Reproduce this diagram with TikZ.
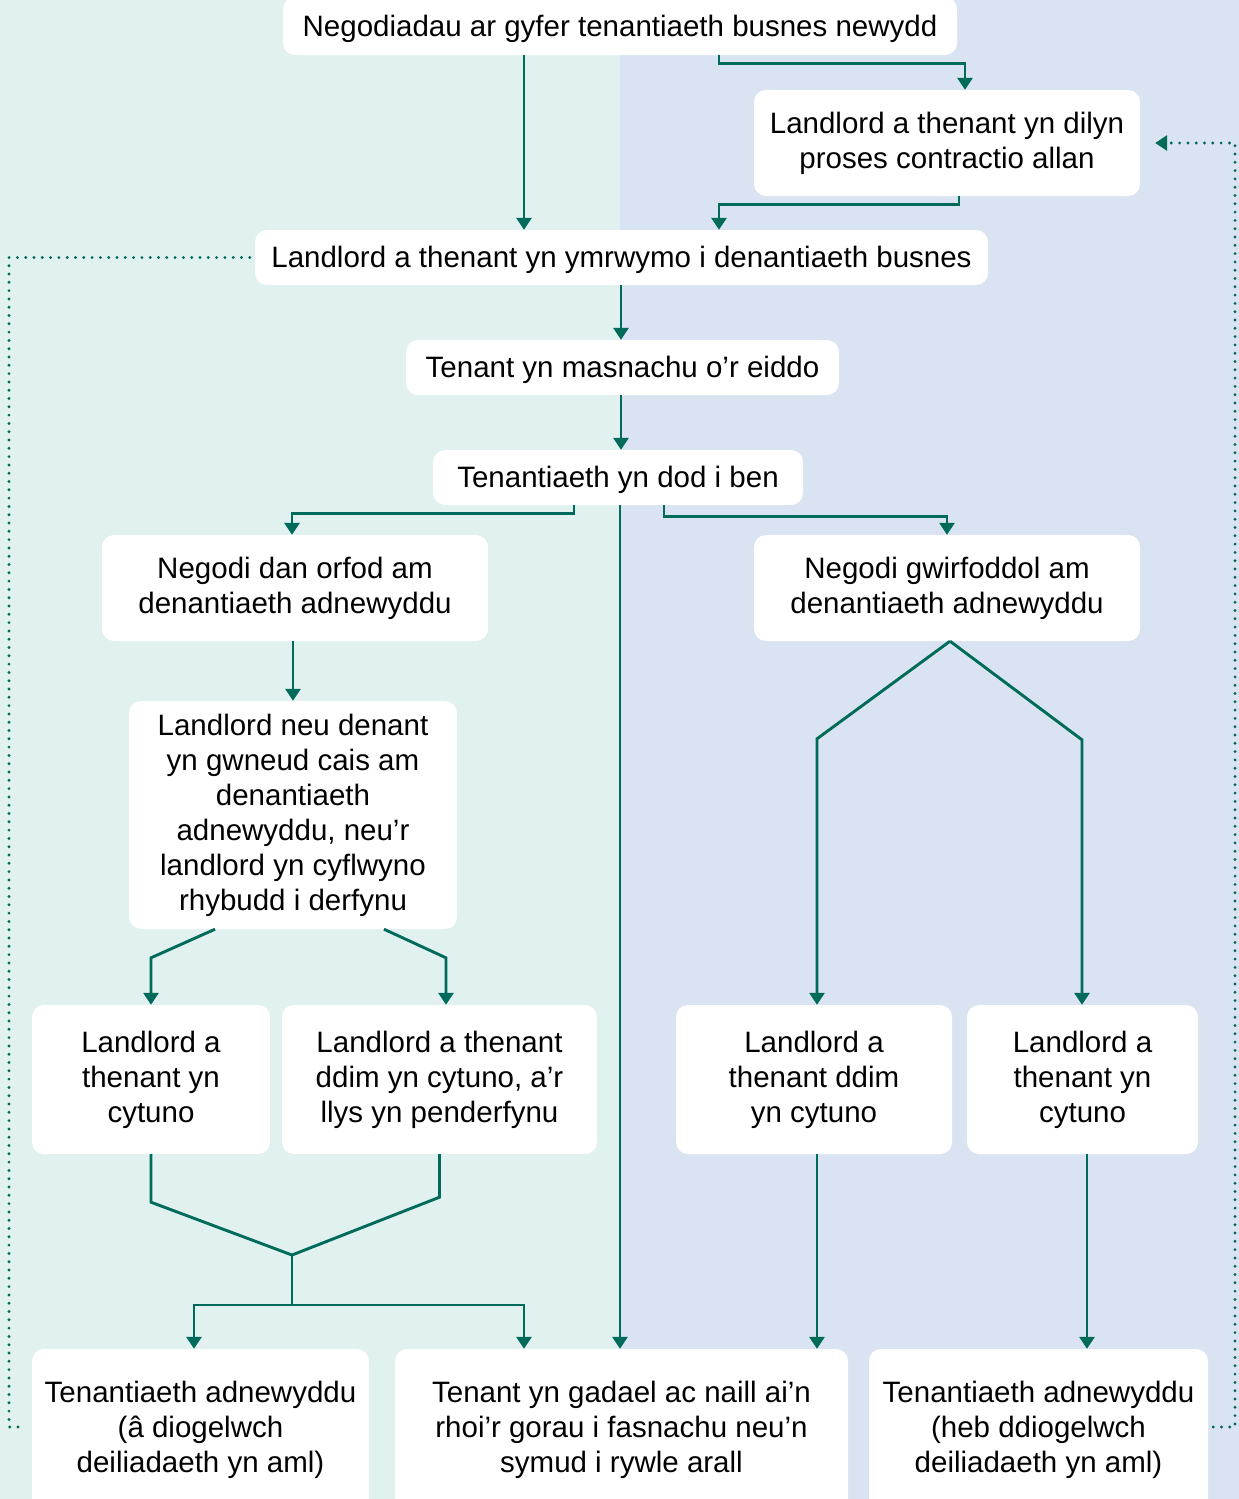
\documentclass[tikz,border=0pt]{standalone}
\usepackage{fontspec}
\setmainfont{Liberation Sans}
\usetikzlibrary{arrows.meta,calc}
\definecolor{bgteal}{HTML}{E0F1F0}
\definecolor{bgblue}{HTML}{DAE3F1}
\definecolor{ln}{HTML}{006B5A}
\begin{document}
\begin{tikzpicture}[x=1pt,y=-1pt,
  box/.style={fill=white,rounded corners=12pt,align=center,inner sep=0pt,
    font=\fontsize{29.5}{35}\selectfont},
  oneline/.style={text height=24.5pt,text depth=4.5pt},
  conn/.style={draw=ln,line width=2.9pt},
  arr/.style={conn,-{Triangle[length=12pt,width=15pt]}},
  dotline/.style={draw=ln,line width=3.2pt,line cap=round,dash pattern=on 0pt off 8.3pt}]
\useasboundingbox (0,0) rectangle (1239,1499);
\begin{scope}
\clip (0,0) rectangle (1239,1499);
\fill[bgteal] (0,0) rectangle (620,1499);
\fill[bgblue] (620,0) rectangle (1239,1499);

\node[box,oneline,minimum width=674pt,minimum height=58pt] (n1) at (620,26) {Negodiadau ar gyfer tenantiaeth busnes newydd};
\node[box,minimum width=386pt,minimum height=106pt] (n2) at (947,143) {Landlord a thenant yn dilyn\\proses contractio allan};
\node[box,oneline,minimum width=733pt,minimum height=55pt] (n3) at (621.5,257.5) {Landlord a thenant yn ymrwymo i denantiaeth busnes};
\node[box,oneline,minimum width=433pt,minimum height=55pt] (n4) at (622.5,367.5) {Tenant yn masnachu o’r eiddo};
\node[box,oneline,minimum width=370pt,minimum height=55pt] (n5) at (618,477.5) {Tenantiaeth yn dod i ben};
\node[box,minimum width=386pt,minimum height=106pt] (n6) at (295,588) {Negodi dan orfod am\\denantiaeth adnewyddu};
\node[box,minimum width=386pt,minimum height=106pt] (n7) at (947,588) {Negodi gwirfoddol am\\denantiaeth adnewyddu};
\node[box,minimum width=328pt,minimum height=228pt] (n8) at (293,815) {Landlord neu denant\\yn gwneud cais am\\denantiaeth\\adnewyddu, neu’r\\landlord yn cyflwyno\\rhybudd i derfynu};
\node[box,minimum width=238pt,minimum height=149pt] (n9) at (151,1079.5) {Landlord a\\thenant yn\\cytuno};
\node[box,minimum width=315pt,minimum height=149pt] (n10) at (439.5,1079.5) {Landlord a thenant\\ddim yn cytuno, a’r\\llys yn penderfynu};
\node[box,minimum width=276pt,minimum height=149pt] (n11) at (814,1079.5) {Landlord a\\thenant ddim\\yn cytuno};
\node[box,minimum width=231pt,minimum height=149pt] (n12) at (1082.5,1079.5) {Landlord a\\thenant yn\\cytuno};
\node[box,minimum width=337pt,minimum height=162pt] (n13) at (200.5,1430) {Tenantiaeth adnewyddu\\(â diogelwch\\deiliadaeth yn aml)};
\node[box,minimum width=453pt,minimum height=162pt] (n14) at (621.5,1430) {Tenant yn gadael ac naill ai’n\\rhoi’r gorau i fasnachu neu’n\\symud i rywle arall};
\node[box,minimum width=339pt,minimum height=162pt] (n15) at (1038.5,1430) {Tenantiaeth adnewyddu\\(heb ddiogelwch\\deiliadaeth yn aml)};

% connectors
\draw[arr] ([xshift=-96pt]n1.south) -- ([xshift=-96pt]n1.south |- n3.north);
\draw[arr] ([xshift=99pt]n1.south) -- ++(0,8) -| ([xshift=18pt]n2.north);
\draw[arr] ([xshift=12pt]n2.south) -- ++(0,8) -| ([xshift=97.5pt]n3.north);
\draw[arr] ([xshift=-0.5pt]n3.south) -- ([xshift=-0.5pt]n3.south |- n4.north);
\draw[arr] ([xshift=-1.5pt]n4.south) -- ([xshift=-1.5pt]n4.south |- n5.north);
\draw[arr] ([xshift=-44pt]n5.south) -- ++(0,8) -| ([xshift=-3pt]n6.north);
\draw[arr] ([xshift=46pt]n5.south) -- ++(0,11) -| (n7.north);
\draw[arr] ([xshift=2pt]n5.south) -- ([xshift=2pt]n5.south |- n14.north);
\draw[arr] (n8.north |- n6.south) -- (n8.north);
\draw[arr] ([xshift=-78pt]n8.south) -- ([yshift=47pt]n9.north) -- (n9.north);
\draw[arr] ([xshift=91pt]n8.south) -- ([xshift=6.5pt,yshift=47pt]n10.north) -- ([xshift=6.5pt]n10.north);
\draw[arr] ([xshift=3pt]n7.south) -- ([xshift=3pt,yshift=266pt]n11.north) -- ([xshift=3pt]n11.north);
\draw[arr] ([xshift=3pt]n7.south) -- ([xshift=-0.5pt,yshift=265pt]n12.north) -- ([xshift=-0.5pt]n12.north);
\coordinate (m) at (292,1255);
\coordinate (h) at (292,1305);
\draw[conn,line join=miter] (n9.south) -- ([yshift=-48pt]n9.south) -- (m) -- ([yshift=-43pt]n10.south) -- (n10.south);
\draw[conn] (m) -- (h);
\draw[arr] (h) -| ([xshift=-6.5pt]n13.north);
\draw[arr] (h) -| ([xshift=-97.5pt]n14.north);
\draw[arr] ([xshift=3pt]n11.south) -- ([xshift=3pt]n11.south |- n14.north);
\draw[arr] ([xshift=4.5pt]n12.south) -- ([xshift=4.5pt]n12.south |- n15.north);

% dotted feedback lines
\coordinate (dl) at (9,1427);
\coordinate (dr) at (1235,1427);
\draw[dotline] ([xshift=-5pt]n3.west) -| (dl) -- ([xshift=-6pt]n13.west |- dl);
\draw[dotline,-{Triangle[length=12pt,width=15pt]}] ([xshift=5pt]n15.east |- dr) -- (dr) |- ([xshift=15pt]n2.east);
\end{scope}
\end{tikzpicture}
\end{document}
